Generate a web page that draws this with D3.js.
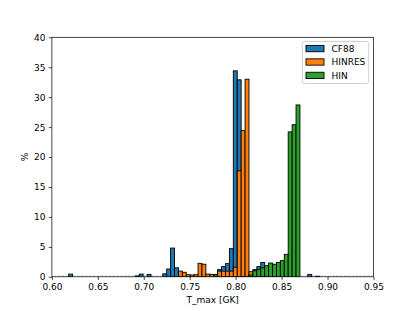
<!DOCTYPE html>
<html>
<head>
<meta charset="utf-8">
<script src="https://cdn.jsdelivr.net/npm/d3@7"></script>
<style>
  body { margin: 0; background: #fff; }
  svg { display: block; font-family: "DejaVu Sans", sans-serif; }
</style>
</head>
<body>
<svg id="chart"></svg>
<script>
// histogram bins (left edge of first bin and bin width, in GK)
const binStart = 0.6012
const binWidth = 0.004266
const seriesNames = ['CF88', 'HINRES', 'HIN']
const seriesColors = ['#1f77b4', '#ff7f0e', '#2ca02c']

// percentages per bin
const cf88 = [
  0, 0, 0, 0, 0.45, 0, 0, 0, 0, 0,
  0, 0, 0, 0, 0, 0, 0, 0, 0, 0,
  0, 0.15, 0.45, 0, 0.4, 0, 0, 0, 0.5, 1.3,
  4.8, 1.5, 0.3, 0, 0, 0, 0, 0, 0, 0,
  0, 0, 1.2, 1.7, 2.2, 4.7, 34.4, 32.9, 3.0, 0.6,
  0.4, 1.2, 1.7, 2.4, 0, 0, 0, 0, 0, 0,
  0, 0, 0, 0, 0, 0.4, 0, 0.1, 0, 0,
  0, 0, 0, 0, 0, 0, 0, 0, 0, 0,
  0, 0
]
const hinres = [
  0, 0, 0, 0, 0, 0, 0, 0, 0, 0,
  0, 0, 0, 0, 0, 0, 0, 0, 0, 0,
  0, 0, 0, 0, 0, 0, 0, 0, 0, 0,
  0, 0, 0.95, 0.75, 0.35, 0.3, 0.35, 2.25, 2.1, 0.45,
  0.4, 0.4, 0.95, 0.95, 0.95, 0.95, 1.6, 17.7, 24.4, 33.0,
  0.85, 0.3, 0, 0, 0, 0, 0, 0, 0, 0,
  0, 0, 0, 0, 0, 0, 0, 0, 0, 0,
  0, 0, 0, 0, 0, 0, 0, 0, 0, 0,
  0, 0
]
const hin = [
  0, 0, 0, 0, 0, 0, 0, 0, 0, 0,
  0, 0, 0, 0, 0, 0, 0, 0, 0, 0,
  0, 0, 0, 0, 0, 0, 0, 0, 0, 0,
  0, 0, 0, 0, 0, 0, 0, 0, 0, 0,
  0, 0.35, 0, 0, 0, 0, 0, 0, 0, 0,
  0.3, 1.0, 1.25, 1.5, 1.85, 2.3, 2.1, 2.4, 2.7, 3.75,
  24.2, 25.4, 28.7, 0, 0, 0, 0, 0, 0, 0,
  0, 0, 0, 0, 0, 0, 0, 0, 0, 0,
  0, 0
]
const series = [cf88, hinres, hin]

const xTicks = [0.60, 0.65, 0.70, 0.75, 0.80, 0.85, 0.90, 0.95]
const yTicks = [0, 5, 10, 15, 20, 25, 30, 35, 40]

const W = 415, H = 311
const m = { left: 51.9, right: 373.5, top: 37.3, bottom: 276.8 }
const tick = 3.15

const svg = d3.select('#chart').attr('width', W).attr('height', H)

const x = d3.scaleLinear().domain([0.60, 0.95]).range([m.left, m.right])
const y = d3.scaleLinear().domain([0, 40]).range([m.bottom, m.top])

svg.append('clipPath').attr('id', 'clip')
  .append('rect')
  .attr('x', m.left).attr('y', m.top)
  .attr('width', m.right - m.left).attr('height', m.bottom - m.top)

const plot = svg.append('g').attr('clip-path', 'url(#clip)')

const nBins = cf88.length
const edges = d3.range(nBins).map(i => binStart + i * binWidth)

// empty bins show as faint dashes on the baseline
const empty = edges.filter((e, i) => series.every(s => s[i] === 0))
plot.append('g').selectAll('line')
  .data(empty)
  .enter()
  .append('line')
  .attr('x1', d => x(d) + 0.7)
  .attr('x2', d => x(d + binWidth) - 0.7)
  .attr('y1', y(0) - 0.7)
  .attr('y2', y(0) - 0.7)
  .attr('stroke', '#aaa')
  .attr('stroke-width', 0.9)

series.forEach((s, si) => {
  const bins = s.map((v, i) => ({ x0: edges[i], v: v })).filter(d => d.v > 0)
  plot.append('g').selectAll('rect')
    .data(bins)
    .enter()
    .append('rect')
    .attr('x', d => x(d.x0))
    .attr('width', d => x(d.x0 + binWidth) - x(d.x0))
    .attr('y', d => y(d.v))
    .attr('height', d => y(0) - y(d.v))
    .attr('fill', seriesColors[si])
    .attr('stroke', 'black')
    .attr('stroke-width', 0.9)
})

// axes
const xAxis = svg.append('g')
  .attr('transform', `translate(0,${m.bottom})`)
  .call(d3.axisBottom(x).tickValues(xTicks).tickFormat(d3.format('.2f'))
    .tickSize(tick).tickPadding(3.3).tickSizeOuter(0))
const yAxis = svg.append('g')
  .attr('transform', `translate(${m.left},0)`)
  .call(d3.axisLeft(y).tickValues(yTicks).tickFormat(d3.format('d'))
    .tickSize(tick).tickPadding(3.3).tickSizeOuter(0))

;[xAxis, yAxis].forEach(a => {
  a.select('.domain').remove()
  a.selectAll('line').attr('stroke', 'black').attr('stroke-width', 0.72)
  a.selectAll('text').attr('fill', 'black')
    .style('font-family', '"DejaVu Sans", sans-serif').style('font-size', '9px')
})

svg.append('rect')
  .attr('x', m.left).attr('y', m.top)
  .attr('width', m.right - m.left).attr('height', m.bottom - m.top)
  .attr('fill', 'none').attr('stroke', 'black').attr('stroke-width', 0.72)

svg.append('text')
  .attr('x', (m.left + m.right) / 2).attr('y', 303)
  .attr('text-anchor', 'middle').attr('font-size', 9)
  .text('T_max [GK]')

svg.append('text')
  .attr('transform', `translate(27.5,${(m.top + m.bottom) / 2}) rotate(-90)`)
  .attr('text-anchor', 'middle').attr('font-size', 9)
  .text('%')

// legend
const lg = svg.append('g')
lg.append('rect')
  .attr('x', 302.3).attr('y', 41.5)
  .attr('width', 66.4).attr('height', 42)
  .attr('rx', 2).attr('ry', 2)
  .attr('fill', 'white').attr('fill-opacity', 0.8)
  .attr('stroke', '#cccccc').attr('stroke-width', 0.9)

const rows = lg.selectAll('g.item')
  .data(seriesNames)
  .enter()
  .append('g')
  .attr('class', 'item')
  .attr('transform', (d, i) => `translate(306,${48.6 + i * 13.4})`)
rows.append('rect')
  .attr('x', 0).attr('y', -3.15)
  .attr('width', 18).attr('height', 6.3)
  .attr('fill', (d, i) => seriesColors[i])
  .attr('stroke', 'black').attr('stroke-width', 0.9)
rows.append('text')
  .attr('x', 25.5).attr('y', 3.3)
  .attr('font-size', 9)
  .text(d => d)
</script>
</body>
</html>
